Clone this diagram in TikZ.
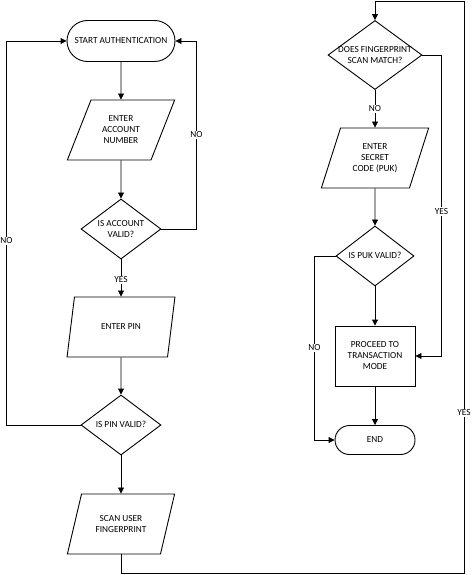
\documentclass[tikz,border=0pt]{standalone}
\usepackage{fontspec}
\setmainfont{Carlito}
\usetikzlibrary{shapes.geometric, shapes.misc, arrows.meta}
\tikzset{>={Triangle[length=6pt, width=6pt]}}
% text of a fixed-size decision box, taking no room
\newcommand{\dtext}[1]{\raisebox{-3pt}[0pt][0pt]{\makebox[0pt]{\begin{tabular}{@{}c@{}}#1\end{tabular}}}}
\renewcommand{\arraystretch}{0.95}

\begin{document}
\begin{tikzpicture}[x=1pt, y=1pt, line width=0.9pt,
    font=\fontsize{9.3}{11}\selectfont,
    term/.style={draw, rounded rectangle, minimum width=108, minimum height=41, inner sep=0},
    io/.style={draw, trapezium, trapezium left angle=62, trapezium right angle=118,
        trapezium stretches=true, minimum width=108, minimum height=60, inner sep=0, align=center},
    decision/.style={draw, diamond, minimum width=80, minimum height=60, inner sep=0},
    process/.style={draw, rectangle, minimum width=80, minimum height=60, align=center},
    lbl/.style={fill=white, inner sep=1pt}]
    \useasboundingbox (0,0) rectangle (473,-575);

    % left column
    \node[term] (start) at (121,-41) {START AUTHENTICATION};
    \node[io] (account) at (121,-130) {ENTER\\ACCOUNT\\NUMBER};
    \node[decision] (accvalid) at (121,-229) {\dtext{IS ACCOUNT\\VALID?}};
    \node[io] (pin) at (121,-327) {ENTER PIN};
    \node[decision] (pinvalid) at (121,-425) {\dtext{IS PIN VALID?}};
    \node[io] (scan) at (121,-524) {SCAN USER\\FINGERPRINT};

    % right column
    \node[decision, minimum width=94, minimum height=69] (match) at (375,-55) {\dtext{DOES FINGERPRINT\\SCAN MATCH?}};
    \node[io, trapezium left angle=67, trapezium right angle=113] (puk) at (375,-158) {ENTER\\SECRET\\CODE (PUK)};
    \node[decision, minimum width=78] (pukvalid) at (375,-256) {\dtext{IS PUK VALID?}};
    \node[process] (proceed) at (375,-356) {PROCEED TO\\TRANSACTION\\MODE};
    \node[term, minimum width=80, minimum height=29] (finish) at (375,-440) {END};

    \coordinate (botright) at (464,-573);
    \coordinate (topright) at (464,-1);

    \draw[->] (start) -- (account);
    \draw[->] (account) -- (accvalid);
    \draw[->] (accvalid) -- (pin) node[lbl, pos=0.55] {YES};
    \draw[->] (accvalid.east) -- ++(35,0) |- (start.east) node[lbl, pos=0.25] {NO};
    \draw[->] (pin) -- (pinvalid);
    \draw[->] (pinvalid.west) -- ++(-74,0) |- (start.west) node[lbl, pos=0.24] {NO};
    \draw[->] (pinvalid) -- (scan);
    \draw[->] (scan.south) |- (botright) -- (topright) node[lbl, pos=0.28] {YES} -| (match.north);
    \draw[->] (match) -- (puk) node[lbl, pos=0.5] {NO};
    \draw[->] (match.east) -- ++(19,0) |- (proceed.east) node[lbl, pos=0.26] {YES};
    \draw[->] (puk) -- (pukvalid);
    \draw[->] (pukvalid) -- (proceed);
    \draw[->] (pukvalid.west) -- ++(-21,0) |- (finish.west) node[lbl, pos=0.25] {NO};
    \draw[->] (proceed) -- (finish);
\end{tikzpicture}
\end{document}
